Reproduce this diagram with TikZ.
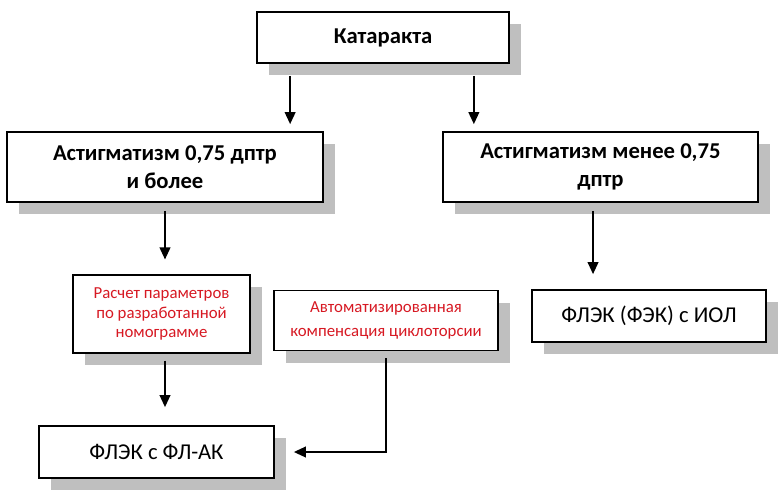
\documentclass[tikz,border=0pt]{standalone}
\usepackage{fontspec}
\setmainfont{Carlito}
\usetikzlibrary{arrows.meta,shadows}
\definecolor{shd}{RGB}{191,191,191}
\definecolor{txtred}{RGB}{215,25,35}
\begin{document}
\begin{tikzpicture}[x=0.75pt,y=-0.75pt,
  box/.style={draw=black,line width=1.3pt,fill=white,align=center,inner sep=0pt,
    drop shadow={shadow xshift=9pt,shadow yshift=-9pt,fill=shd,opacity=1}},
  bigbold/.style={font=\fontsize{17}{21}\selectfont\bfseries},
  bigtxt/.style={font=\fontsize{17}{21}\selectfont},
  redtxt/.style={font=\fontsize{12.6}{14.8}\selectfont,text=txtred},
  redtxtwide/.style={font=\fontsize{12.6}{17.5}\selectfont,text=txtred},
  arr/.style={-{Triangle[width=8pt,length=9pt]},line width=1.3pt}]
\useasboundingbox (0,0) rectangle (779,497);
\node[box,bigbold,minimum width=189pt,minimum height=38.25pt] (kat) at (383,37.5) {Катаракта};
\node[box,bigbold,minimum width=237pt,minimum height=52.5pt] (astL) at (165,167) {Астигматизм 0,75 дптр\\и более};
\node[box,bigbold,minimum width=236.25pt,minimum height=52.5pt] (astR) at (600.5,167) {Астигматизм менее 0,75\\дптр};
\node[box,redtxt,minimum width=132.75pt,minimum height=58pt] (rasch) at (161.5,314) {Расчет параметров\\по разработанной\\номограмме};
\node[box,redtxtwide,minimum width=168pt,minimum height=45pt] (avt) at (386,320.5) {Автоматизированная\\компенсация циклоторсии};
\node[box,bigtxt,minimum width=176.25pt,minimum height=39pt] (flek1) at (156.5,452) {ФЛЭК с ФЛ-АК};
\node[box,bigtxt,minimum width=175.5pt,minimum height=39pt] (flek2) at (649,316) {ФЛЭК (ФЭК) с ИОЛ};
\path ([xshift=25.5pt]kat.south west) coordinate (k1);
\path ([xshift=-27pt]kat.south east) coordinate (k2);
\draw[arr,shorten <=9pt,shorten >=5.25pt] (k1) -- (k1 |- astL.north);
\draw[arr,shorten <=9pt,shorten >=5.25pt] (k2) -- (k2 |- astR.north);
\draw[arr,shorten <=6pt,shorten >=11.25pt] (astL.south) -- (astL.south |- rasch.north);
\path ([xshift=-5.6pt]astR.south) coordinate (r1);
\draw[arr,shorten <=6pt,shorten >=11.25pt] (r1) -- (r1 |- flek2.north);
\path (astL.south |- rasch.south) coordinate (q1);
\draw[arr,shorten <=5.25pt,shorten >=13.5pt] (q1) -- (q1 |- flek1.north);
\draw[arr,shorten <=5.25pt,shorten >=14.25pt] (avt.south) |- (flek1.east);
\end{tikzpicture}
\end{document}
